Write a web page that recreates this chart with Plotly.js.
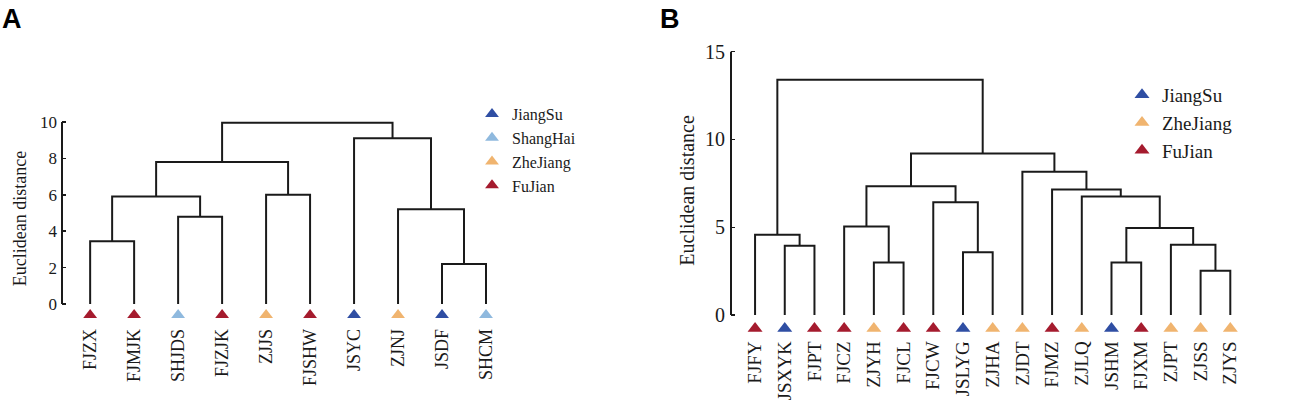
<!DOCTYPE html>
<html>
<head>
<meta charset="utf-8">
<script src="https://cdn.plot.ly/plotly-3.0.1.min.js"></script>
<style>html,body{margin:0;padding:0;background:#fff;}#chart{width:1299px;height:420px;}</style>
</head>
<body>
<div id="chart"></div>
<script>
// ---------- Panel A data ----------
const leavesA = ['FJZX','FJMJK','SHJDS','FJZJK','ZJJS','FJSHW','JSYC','ZJNJ','JSDF','SHCM'];
const groupsA = ['FuJian','FuJian','ShangHai','FuJian','ZheJiang','FuJian','JiangSu','ZheJiang','JiangSu','ShangHai'];
// linkage rows: [left cluster, right cluster, height]; ids >= n are earlier merges
const mergesA = [
  [8, 9, 2.2],
  [0, 1, 3.45],
  [2, 3, 4.8],
  [7, 10, 5.2],
  [11, 12, 5.9],
  [4, 5, 6.0],
  [14, 15, 7.8],
  [6, 13, 9.1],
  [16, 17, 9.95]
];
const legendGroupsA = ['JiangSu','ShangHai','ZheJiang','FuJian'];

// ---------- Panel B data ----------
const leavesB = ['FJFY','JSXYK','FJPT','FJCZ','ZJYH','FJCL','FJCW','JSLYG','ZJHA','ZJDT','FJMZ','ZJLQ','JSHM','FJXM','ZJPT','ZJSS','ZJYS'];
const groupsB = ['FuJian','JiangSu','FuJian','FuJian','ZheJiang','FuJian','FuJian','JiangSu','ZheJiang','ZheJiang','FuJian','ZheJiang','JiangSu','FuJian','ZheJiang','ZheJiang','ZheJiang'];
const mergesB = [
  [15, 16, 2.52],
  [4, 5, 3.0],
  [12, 13, 3.0],
  [7, 8, 3.58],
  [1, 2, 3.95],
  [14, 17, 4.0],
  [0, 21, 4.58],
  [19, 22, 4.96],
  [3, 18, 5.05],
  [6, 20, 6.42],
  [11, 24, 6.75],
  [10, 27, 7.15],
  [25, 26, 7.34],
  [9, 28, 8.16],
  [29, 30, 9.2],
  [23, 31, 13.4]
];
const legendGroupsB = ['JiangSu','ZheJiang','FuJian'];

// ---------- styles ----------
const groupColors = {JiangSu:'#2f4ea3', ShangHai:'#8fb9de', ZheJiang:'#f0b46f', FuJian:'#a51b2e'};
const SERIF = 'Liberation Serif, Times New Roman, serif';
const LINE = '#1a1a1a';

function dendroLines(n, merges) {
  const pos = [], hgt = [];
  for (let i = 0; i < n; i++) { pos.push(i); hgt.push(0); }
  const xs = [], ys = [];
  merges.forEach(function(m) {
    const a = m[0], b = m[1], h = m[2];
    xs.push(pos[a], pos[a], pos[b], pos[b], null);
    ys.push(hgt[a], h, h, hgt[b], null);
    pos.push((pos[a] + pos[b]) / 2);
    hgt.push(h);
  });
  return {x: xs, y: ys};
}

function leafTraces(leaves, groups, order, xa, ya, legendName, markerY, size) {
  return order.map(function(g) {
    const idx = [];
    groups.forEach(function(gg, i) { if (gg === g) idx.push(i); });
    return {
      type: 'scatter', mode: 'markers', xaxis: xa, yaxis: ya,
      x: idx, y: idx.map(function(){ return markerY; }),
      name: g, legend: legendName, showlegend: true,
      marker: {symbol: 'triangle-up', size: size, color: groupColors[g], line: {width: 0}},
      hoverinfo: 'skip', cliponaxis: false
    };
  });
}

const dA = dendroLines(leavesA.length, mergesA);
const dB = dendroLines(leavesB.length, mergesB);

const traces = [
  {type:'scatter', mode:'lines', x:dA.x, y:dA.y, xaxis:'x', yaxis:'y', line:{color:LINE, width:2}, showlegend:false, hoverinfo:'skip'},
  {type:'scatter', mode:'lines', x:dB.x, y:dB.y, xaxis:'x2', yaxis:'y2', line:{color:LINE, width:2}, showlegend:false, hoverinfo:'skip'}
].concat(
  leafTraces(leavesA, groupsA, legendGroupsA, 'x', 'y', 'legend', -0.6, 12),
  leafTraces(leavesB, groupsB, legendGroupsB, 'x2', 'y2', 'legend2', -0.76, 13)
);

const W = 1299, H = 420;
function px(x){ return x / W; }
function py(y){ return 1 - y / H; }

const layout = {
  width: W, height: H,
  margin: {l:0, r:0, t:0, b:0},
  paper_bgcolor: '#ffffff', plot_bgcolor: 'rgba(0,0,0,0)',
  font: {family: SERIF, color: '#1a1a1a'},
  xaxis: {
    domain: [px(62), px(508)], range: [-0.64, 9.5],
    tickmode: 'array', tickvals: leavesA.map(function(_, i){ return i; }), ticktext: leavesA,
    tickangle: -90, ticks: '', showgrid: false, zeroline: false, showline: false,
    tickfont: {family: SERIF, size: 18, color: '#1a1a1a'}, ticklabelstandoff: 4, anchor: 'y'
  },
  yaxis: {
    domain: [py(320.4), py(116.5)], range: [-0.9, 10.3],
    tickmode: 'linear', tick0: 0, dtick: 2,
    ticks: 'inside', ticklen: 4, tickwidth: 1.5, tickcolor: LINE,
    showgrid: false, zeroline: false, showline: false,
    tickfont: {family: SERIF, size: 17, color: '#1a1a1a'}, ticklabelstandoff: 4,
    title: {text: 'Euclidean distance', font: {family: SERIF, size: 18, color: '#1a1a1a'}, standoff: 8},
    anchor: 'x'
  },
  xaxis2: {
    domain: [px(731), px(1260)], range: [-0.81, 17],
    tickmode: 'array', tickvals: leavesB.map(function(_, i){ return i; }), ticktext: leavesB,
    tickangle: -90, ticks: '', showgrid: false, zeroline: false, showline: false,
    tickfont: {family: SERIF, size: 19, color: '#1a1a1a'}, ticklabelstandoff: 4, anchor: 'y2'
  },
  yaxis2: {
    domain: [py(332.6), py(48.2)], range: [-1.0, 15.2],
    tickmode: 'linear', tick0: 0, dtick: 5,
    ticks: 'inside', ticklen: 4, tickwidth: 1.5, tickcolor: LINE,
    showgrid: false, zeroline: false, showline: false,
    tickfont: {family: SERIF, size: 20, color: '#1a1a1a'}, ticklabelstandoff: 5,
    title: {text: 'Euclidean distance', font: {family: SERIF, size: 20, color: '#1a1a1a'}, standoff: 4},
    anchor: 'x2'
  },
  shapes: [
    {type:'line', xref:'x domain', yref:'y', x0:0, x1:0, y0:0, y1:10, line:{color:LINE, width:2}},
    {type:'line', xref:'x2 domain', yref:'y2', x0:0, x1:0, y0:0, y1:15, line:{color:LINE, width:2}}
  ],
  legend: {
    x: px(472), y: py(97), xanchor: 'left', yanchor: 'top',
    bgcolor: 'rgba(0,0,0,0)', borderwidth: 0, itemwidth: 30, tracegroupgap: 0,
    font: {family: SERIF, size: 16, color: '#1a1a1a'}
  },
  legend2: {
    x: px(1122), y: py(76), xanchor: 'left', yanchor: 'top',
    bgcolor: 'rgba(0,0,0,0)', borderwidth: 0, itemwidth: 30, tracegroupgap: 0,
    font: {family: SERIF, size: 19, color: '#1a1a1a'}
  },
  annotations: [
    {text: '<b>A</b>', xref: 'paper', yref: 'paper', x: px(0), y: py(2), xanchor: 'left', yanchor: 'top', showarrow: false,
     font: {family: 'Liberation Sans, Arial, sans-serif', size: 27, color: '#000'}},
    {text: '<b>B</b>', xref: 'paper', yref: 'paper', x: px(658), y: py(2), xanchor: 'left', yanchor: 'top', showarrow: false,
     font: {family: 'Liberation Sans, Arial, sans-serif', size: 27, color: '#000'}}
  ]
};

Plotly.newPlot('chart', traces, layout, {staticPlot: true, displayModeBar: false});
</script>
</body>
</html>
